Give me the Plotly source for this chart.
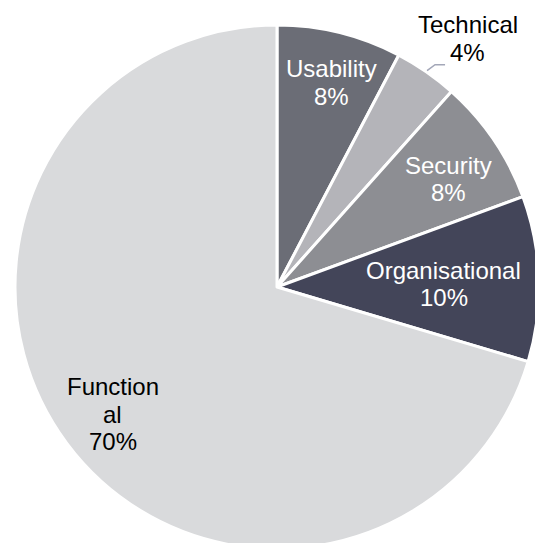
import math
import plotly.graph_objects as go

categories = ["Usability", "Technical", "Security", "Organisational", "Functional"]
values = [7.7, 3.9, 7.8, 10.2, 70.4]
label_lines = [["Usability"], ["Technical"], ["Security"], ["Organisational"], ["Function", "al"]]
colors = ["#6b6d76", "#b4b4b9", "#8d8e93", "#434559", "#d9dadc"]
text_colors = ["white", "black", "white", "white", "black"]
label_radius = [0.807, 1.196, 0.773, 0.637, 0.793]
label_angle_shift = [1.0, 2.8, 2.0, 0.7, -1.1]

W, H = 545, 560
L, R, T, B = 15, 6, 25, 11
PW, PH = W - L - R, H - T - B
LINE = 27.5
FONT = "Arial, Liberation Sans, sans-serif"

fig = go.Figure(go.Pie(
    labels=categories, values=values, sort=False, direction="clockwise",
    rotation=0, textinfo="none", hoverinfo="label+percent",
    marker=dict(colors=colors, line=dict(color="white", width=3)),
    domain=dict(x=[0, 1], y=[0, 1]), showlegend=False,
))

total = sum(values)
cum = 0.0
annotations = []
shapes = []
for i, v in enumerate(values):
    mid = (cum + v / 2) / total * 360.0
    cum += v
    pct = round(v / total * 100)
    ang = math.radians(mid + label_angle_shift[i])
    f = label_radius[i]
    x = 0.5 + 0.5 * f * math.sin(ang)
    y = 0.5 + 0.5 * f * math.cos(ang)
    lines = label_lines[i] + [f"{pct}%"]
    n = len(lines)
    for k, t in enumerate(lines):
        off = ((n - 1) / 2 - k) * LINE / PH
        annotations.append(dict(
            x=x, y=y + off, xref="paper", yref="paper", showarrow=False,
            text=t, align="center",
            font=dict(family=FONT, size=24, color=text_colors[i]),
            xanchor="center", yanchor="middle",
        ))
    if f > 1:
        a0 = math.radians(mid)
        sx = 0.5 + 0.5 * 1.005 * math.sin(a0)
        sy = 0.5 + 0.5 * 1.005 * math.cos(a0)
        ex = sx + 8 / PW
        ey = sy + 6 / PH
        hx = ex + 10 / PW
        shapes.append(dict(
            type="path", xref="paper", yref="paper",
            path=f"M {sx} {sy} L {ex} {ey} L {hx} {ey}",
            line=dict(color="#a3a7b8", width=1.5),
        ))

fig.update_layout(
    width=W, height=H, autosize=False,
    margin=dict(l=L, r=R, t=T, b=B, pad=0),
    paper_bgcolor="white", plot_bgcolor="white",
    annotations=annotations, shapes=shapes,
)

fig.write_html(
    "out.html",
    post_script="document.documentElement.style.overflow='hidden';"
                "document.body.style.overflow='hidden';document.body.style.margin='0';",
)
